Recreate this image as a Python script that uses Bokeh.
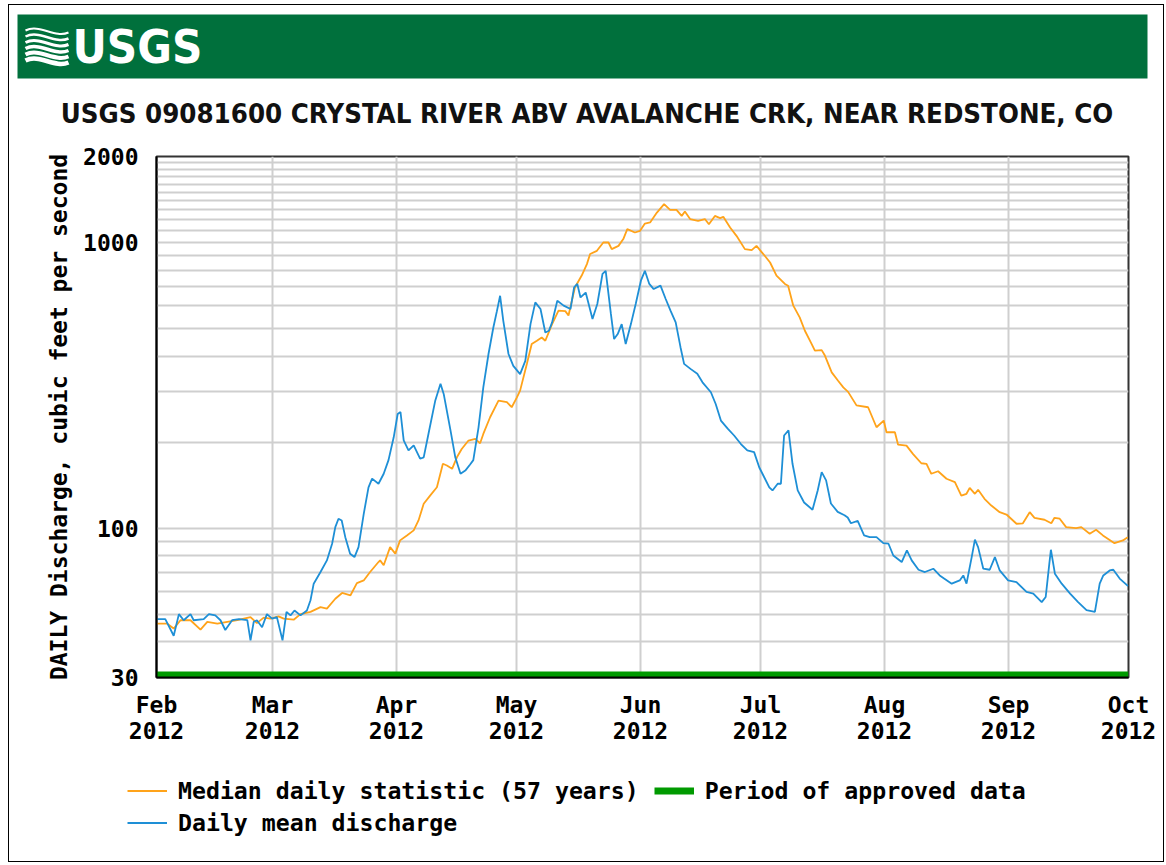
import numpy as np
import pandas as pd
from bokeh.plotting import figure
from bokeh.models import (Range1d, FixedTicker, DatetimeTickFormatter, NumeralTickFormatter,
                          Legend, LegendItem)
from bokeh.layouts import column
from bokeh.embed import file_html
from bokeh.resources import INLINE
from bokeh.core.properties import value

TITLE = "USGS 09081600 CRYSTAL RIVER ABV AVALANCHE CRK, NEAR REDSTONE, CO"
START = "2012-02-01"
END = "2012-10-01"

# Daily mean discharge, cfs (day offset from 2012-02-01)
mean_day = [0.2, 2.2, 4.3, 5.6, 6.8, 8.5, 9.3, 11.8, 13.1, 14.7, 16.0, 17.2, 18.9, 20.6, 22.7, 23.5,
            24.3, 25.1, 26.4, 27.6, 28.9, 30.1, 31.5, 32.5, 33.5, 34.5, 36.0, 37.6, 38.5, 39.3, 41.0,
            42.6, 43.9, 44.7, 45.5, 46.3, 47.2, 48.4, 49.5, 50.5, 51.8, 53.0, 53.9, 55.5, 56.8, 58.0,
            59.3, 60.3, 61.0, 61.8, 63.0, 64.3, 65.9, 66.8, 68.0, 69.7, 71.0, 71.8, 73.5, 74.7, 76.0,
            77.2, 78.4, 79.2, 80.5, 81.7, 83.0, 84.2, 85.1, 85.9, 86.7, 88.0, 89.2, 90.9, 92.2, 93.5,
            94.7, 96.0, 97.2, 98.1, 98.9, 100.2, 101.8, 103.5, 104.4, 105.2, 106.0, 107.3, 109.0,
            110.2, 111.5, 112.3, 113.6, 114.4, 115.3, 116.3, 117.3, 118.6, 119.8, 121.1, 122.1,
            123.2, 124.3, 126.0, 127.3, 128.5, 129.8, 131.0, 131.9, 133.5, 135.2, 136.5, 138.6,
            139.8, 141.1, 142.8, 144.4, 146.1, 147.7, 149.4, 150.7, 151.9, 153.2, 154.0, 155.3,
            156.1, 156.9, 158.0, 159.0, 160.3, 161.9, 164.0, 165.3, 166.3, 167.4, 168.6, 170.3,
            172.0, 172.8, 173.6, 175.3, 176.9, 178.3, 180.0, 181.7, 183.0, 184.2, 186.3, 187.6,
            188.8, 190.5, 192.1, 194.2, 195.8, 198.8, 200.8, 201.7, 202.5, 203.8, 204.6, 205.4,
            206.7, 208.3, 209.6, 210.8, 212.9, 215.0, 217.5, 219.2, 221.3, 222.3, 223.2, 223.6,
            224.6, 226.3, 228.4, 230.4, 232.5, 234.6, 235.8, 236.7, 238.3, 239.2, 240.8, 242.9]
mean_cfs = [48, 48, 42, 50, 47.6, 50, 47.6, 48, 50, 49.5, 47.6, 44, 47.6, 48, 47.6, 40.5,
            47, 47.6, 45, 50, 48.2, 48.8, 40.5, 50.9, 49.5, 51.5, 49.5, 51.5, 55.9, 63.9, 70.2,
            77.1, 88.2, 100.8, 107.9, 106.4, 93, 81.4, 79.2, 85.8, 112, 139, 149, 143, 155, 173,
            208, 251, 255, 203, 187, 195, 175, 177, 214, 280, 320, 295, 220, 177, 155,
            159, 167, 173, 225, 311, 407, 503, 575, 651, 532, 407, 370, 346, 385, 518,
            617, 585, 484, 491, 525, 625, 601, 585, 696, 716, 642, 668, 540,
            609, 776, 796, 562, 459, 478, 518, 441, 518, 609, 735, 796,
            716, 687, 706, 634, 577, 525, 430, 376, 361, 347, 324, 299,
            272, 238, 223, 211, 197, 187, 184.5, 163, 151, 139, 135.5, 143,
            143, 211, 220, 168, 135.5, 123, 116, 135.5, 157, 147, 122, 114,
            111, 109, 104, 106, 94.3, 93, 93, 88.6, 88.2, 80.2, 76.1, 83.6,
            77.1, 71.5, 70.2, 72.1, 68.3, 63.9, 65.6, 68.3, 63.9, 79.2, 91.1, 85.8,
            72.1, 71.5, 79.2, 71.1, 65.6, 64.7, 59.8, 59.0, 55.1, 57.4, 75, 84,
            69.3, 63.9, 59, 55.1, 51.6, 50.9, 63.9, 68.3, 71.1, 71.5, 66.6, 62.7]

# Median daily statistic (57 years), cfs
median_day = [0.2, 2.7, 4.3, 6.0, 8.5, 11.0, 12.7, 15.2, 17.7, 20.2, 23.5, 25.1, 26.8, 28.5, 30.5,
              31.8, 34.3, 36.0, 38.5, 41.0, 42.6, 44.7, 46.4, 48.5, 50.1, 51.8, 53.4, 55.5, 55.9,
              56.8, 58.4, 59.7, 60.9, 62.6, 64.3, 65.5, 66.8, 68.4, 70.1, 71.6, 72.6, 73.9, 75.1,
              76.3, 78.0, 79.7, 80.9, 81.7, 83.4, 85.5, 87.6, 88.8, 90.1, 90.9, 92.6, 93.8, 95.1,
              96.3, 97.2, 98.9, 100.5, 102.2, 103.0, 104.6, 106.3, 107.6, 108.4, 110.1, 111.7,
              113.0, 113.8, 115.5, 116.7, 117.7, 119.6, 120.9, 122.1, 123.4, 125.1, 126.9, 128.4,
              130.0, 131.3, 132.1, 133.4, 135.4, 137.1, 138.1, 139.6, 140.9, 141.7, 143.4, 145.0,
              147.1, 148.8, 150.0, 151.7, 153.4, 155.0, 157.1, 157.9, 159.2, 160.8, 162.1, 163.8,
              164.6, 166.3, 167.1, 168.8, 170.4, 171.7, 172.9, 175.0, 177.9, 180.0, 181.8, 182.5,
              184.6, 185.4, 187.5, 189.1, 191.2, 192.5, 193.7, 195.4, 197.5, 199.6, 201.2, 202.5,
              203.3, 204.6, 205.4, 207.0, 208.7, 210.8, 212.5, 215.0, 216.6, 218.3, 219.5, 222.0,
              223.7, 224.5, 225.8, 227.4, 229.9, 231.2, 233.3, 234.9, 236.6, 239.5, 241.6, 242.8]
median_cfs = [46.3, 46.3, 44.5, 47.6, 47.6, 44.1, 47, 46.3, 47, 47.6, 48.8, 46.5, 48.6, 48.2, 49.1,
              48.2, 47.8, 50, 50.9, 52.9, 52.3, 56.6, 59.3, 58.2, 64.2, 65.6, 70.2, 76.1, 77.1,
              74.1, 85.8, 81.4, 90.6, 94.3, 98.2, 106.4, 121.7, 130, 139, 168, 165.7, 161.3, 177,
              189.3, 202.6, 205.3, 198.1, 213.7, 244.5, 279.5, 276, 265, 287, 303, 376, 441, 453,
              465, 453, 518, 577, 575, 555, 696, 766, 840, 911, 935, 1000,
              1000, 948, 973, 1028, 1114, 1084, 1099, 1165, 1175, 1273, 1362, 1301,
              1301, 1239, 1283, 1208, 1191, 1208, 1159, 1239, 1217, 1230, 1128, 1055,
              948, 940, 973, 911, 851, 766, 716, 706, 601, 547, 491, 441,
              418, 420, 402, 351, 328, 311, 300, 269, 265, 225.5, 238, 216.6,
              216.6, 196, 194.5, 182, 168.7, 168, 155, 158.2, 148.9, 144.9, 130, 131.9,
              138.4, 131.9, 136.2, 126.7, 120, 113.7, 111.6, 103.6, 104, 113.7, 108.7, 107,
              104, 108.7, 107.9, 100.8, 100, 100.8, 95.6, 98.7, 94.3, 88.6, 90.6, 93]

approved_period = ["2012-02-01", "2012-10-01"]
y_ticks = [30, 100, 1000, 2000]
y_grid = [30, 40, 50, 60, 70, 80, 90, 100, 200, 300, 400, 500, 600, 700, 800, 900,
          1000, 1100, 1200, 1300, 1400, 1500, 1600, 1700, 1800, 1900, 2000]
Y_MIN, Y_MAX = 30, 2000

base = pd.Timestamp(START)
mean_dates = base + pd.to_timedelta(mean_day, unit="D")
median_dates = base + pd.to_timedelta(median_day, unit="D")
approved_dates = pd.to_datetime(approved_period)
months = pd.date_range(START, END, freq="MS")
month_ms = [float((m - pd.Timestamp("1970-01-01")) / pd.Timedelta("1ms")) for m in months]

MONO = "DejaVu Sans Mono"
COND = "DejaVu Sans Condensed, DejaVu Sans"
C_MEDIAN = "#ffa31a"
C_MEAN = "#1e8fd6"
C_APPROVED = "#009a00"
W = 1154
BORDER = "1px solid #000000"

# ---------------- header -----------------
HA = 130
hdr = figure(width=W, height=HA, x_range=Range1d(0, W), y_range=Range1d(HA, 0),
             toolbar_location=None, output_backend="svg", title=None,
             x_axis_location=None, y_axis_location=None, min_border=0)
hdr.grid.visible = False
hdr.outline_line_color = None
hdr.quad(left=[8], right=[1138], top=[9], bottom=[73], fill_color="#00703c", line_color=None)
wy = [25, 31, 37, 43, 49, 55]
hdr.bezier(x0=[16] * 6, y0=wy, x1=[59] * 6, y1=[v + 2 for v in wy],
           cx0=[30] * 6, cy0=[v - 7 for v in wy], cx1=[45] * 6, cy1=[v + 8 for v in wy],
           line_color="white", line_width=[2, 2.5, 3, 3.5, 4, 4.5])
hdr.text(x=[63], y=[41], text=["USGS"], text_color="white",
         text_font=value(COND), text_font_style="bold",
         text_font_size="47px", text_align="left", text_baseline="middle")
hdr.text(x=[577.5], y=[107.5], text=[TITLE], text_color="#111111",
         text_font=value(COND), text_font_style="bold",
         text_font_size="27.4px", text_align="center", text_baseline="middle")

# ---------------- main plot -----------------
HB = 625
p = figure(width=W, height=HB, x_axis_type="datetime", y_axis_type="log",
           x_range=Range1d(pd.Timestamp(START), pd.Timestamp(END)),
           y_range=Range1d(Y_MIN, Y_MAX),
           toolbar_location=None, output_backend="svg", title=None,
           min_border_left=147, min_border_right=35, min_border_top=21, min_border_bottom=83)
p.background_fill_color = "white"
p.border_fill_color = "white"
p.outline_line_color = "#333333"
p.outline_line_width = 2

p.xaxis.ticker = FixedTicker(ticks=month_ms)
p.xgrid.ticker = FixedTicker(ticks=month_ms)
p.xaxis.formatter = DatetimeTickFormatter(days="%b\n%Y", months="%b\n%Y", years="%b\n%Y")
p.yaxis.ticker = FixedTicker(ticks=y_ticks)
p.ygrid.ticker = FixedTicker(ticks=y_grid)
p.yaxis.formatter = NumeralTickFormatter(format="0")
p.grid.grid_line_color = "#cfcfcf"
p.grid.grid_line_width = 2

for ax in (p.xaxis[0], p.yaxis[0]):
    ax.axis_line_color = "black"
    ax.axis_line_width = 2
    ax.major_tick_line_color = None
    ax.minor_tick_line_color = None
    ax.major_label_text_font = MONO
    ax.major_label_text_font_style = "bold"
    ax.major_label_text_font_size = "23px"
    ax.major_label_text_color = "black"
p.xaxis.major_label_standoff = 8
p.xaxis.major_label_text_line_height = 1.0
p.yaxis.major_label_standoff = 12
p.yaxis.axis_label = "DAILY Discharge, cubic feet per second"
p.yaxis.axis_label_text_font = MONO
p.yaxis.axis_label_text_font_style = "bold"
p.yaxis.axis_label_text_font_size = "23px"
p.yaxis.axis_label_text_color = "black"
p.yaxis.axis_label_standoff = 8

band_y = Y_MIN * 10 ** (3 / 285.6)
p.line(median_dates, median_cfs, line_color=C_MEDIAN, line_width=1.8)
p.line(mean_dates, mean_cfs, line_color=C_MEAN, line_width=1.8)
p.line(approved_dates, [band_y, band_y], line_color=C_APPROVED, line_width=6)

# ---------------- legend strip -----------------
HC = 101
foot = figure(width=W, height=HC, x_range=Range1d(0, W), y_range=Range1d(0, HC),
              toolbar_location=None, output_backend="svg", title=None,
              x_axis_location=None, y_axis_location=None, min_border=0)
foot.grid.visible = False
foot.outline_line_color = None
# off-screen stand-ins that carry the legend swatch styles
lg_median = foot.line([-100, -90], [-100, -100], line_color=C_MEDIAN, line_width=2)
lg_approved = foot.line([-100, -90], [-100, -100], line_color=C_APPROVED, line_width=7)
lg_mean = foot.line([-100, -90], [-100, -100], line_color=C_MEAN, line_width=2)

leg_kw = dict(label_text_font=MONO, label_text_font_style="bold", label_text_font_size="23.2px",
              label_text_color="black", glyph_width=40, glyph_height=27, label_height=27,
              label_standoff=11, spacing=15, padding=0, margin=0,
              border_line_color=None, background_fill_alpha=0)
leg1 = Legend(items=[LegendItem(label="Median daily statistic (57 years)", renderers=[lg_median]),
                     LegendItem(label="Period of approved data", renderers=[lg_approved])],
              orientation="horizontal", location=(118, 57.5), **leg_kw)
leg2 = Legend(items=[LegendItem(label="Daily mean discharge", renderers=[lg_mean])],
              orientation="horizontal", location=(118, 25.5), **leg_kw)
foot.add_layout(leg1)
foot.add_layout(leg2)

top_box = column(hdr, styles={"border-top": BORDER, "border-left": BORDER, "border-right": BORDER,
                              "margin-left": "8px", "margin-top": "4px"})
mid_box = column(p, styles={"border-left": BORDER, "border-right": BORDER, "margin-left": "8px"})
bot_box = column(foot, styles={"border-left": BORDER, "border-right": BORDER,
                               "border-bottom": BORDER, "margin-left": "8px"})

with open("out.html", "w") as f:
    f.write(file_html([top_box, mid_box, bot_box], INLINE))
